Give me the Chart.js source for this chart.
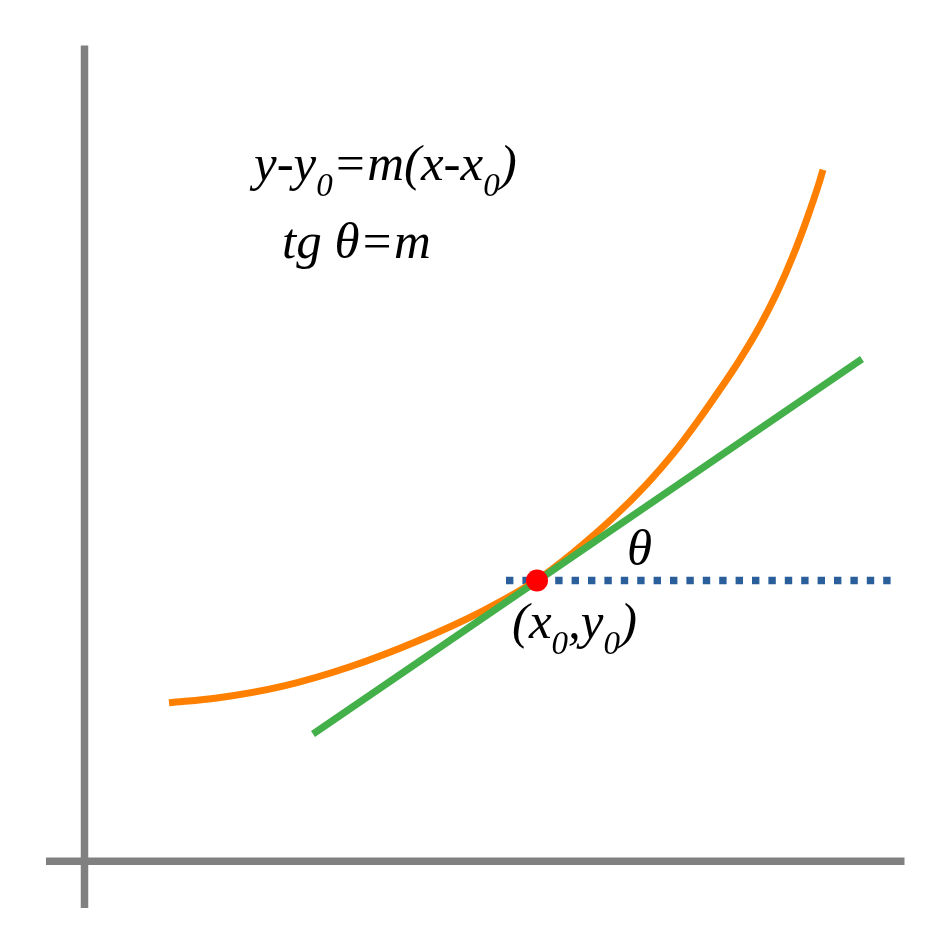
<!DOCTYPE html>
<html lang="pt-BR">
<head>
  <meta charset="UTF-8" />
  <title>Reta tangente</title>
  <style>
    body { margin: 0; background: #ffffff; }
    #grafico { display: block; }
  </style>
</head>
<body>
  <canvas id="grafico" width="945" height="945"></canvas>

  <script src="https://cdn.jsdelivr.net/npm/chart.js"></script>
  <script>
    // Curva (laranja), lida ponto a ponto da figura
    const curvaX = [85, 133, 199, 266, 333, 399, 453, 489, 529, 563, 589, 613, 633, 656, 676, 693, 709, 723, 735, 739];
    const curvaY = [158.2, 163, 174.9, 194.3, 219.8, 250.2, 281, 308.4, 343.2, 377.2, 407.1, 438.8, 467.2, 501.7, 535.3, 568.4, 605.2, 642.3, 677.7, 691.3];

    // Reta tangente (verde)
    const tangenteX = [229, 778];
    const tangenteY = [127, 502];

    // Linha horizontal pontilhada (azul)
    const horizX = [422, 808];
    const horizY = [280.5, 280.5];

    // Ponto de tangencia (x0, y0)
    const pontoX = [453];
    const pontoY = [280.5];

    // Eixos
    const eixoHX = [-38, 820.5];
    const eixoHY = [-0.3, -0.3];
    const eixoVX = [0.5, 0.5];
    const eixoVY = [-47, 815.5];

    // Textos: [x, y de base, partes]  (parte com sub = true fica subscrita)
    const textos = [
      [170, 681, [['y-y'], ['0', true], ['=m(x-x'], ['0', true], [')']]],
      [198, 603, [['tg θ=m']]],
      [543, 296, [['θ']]],
      [428, 223, [['(x'], ['0', true], [','], ['y'], ['0', true], [')']]]
    ];

    function pares(xs, ys) {
      return xs.map((x, i) => ({ x: x, y: ys[i] }));
    }

    const fonteNormal = 'italic 51px "Liberation Serif", "DejaVu Serif", serif';
    const fonteSub = 'italic 33px "Liberation Serif", "DejaVu Serif", serif';

    // Plugin para escrever as fórmulas
    const pluginTextos = {
      id: 'textos',
      afterDraw(chart) {
        const ctx = chart.ctx;
        const sx = chart.scales.x, sy = chart.scales.y;
        ctx.save();
        ctx.fillStyle = '#000000';
        ctx.textBaseline = 'alphabetic';
        ctx.textAlign = 'left';
        textos.forEach(t => {
          let px = sx.getPixelForValue(t[0]);
          const py = sy.getPixelForValue(t[1]);
          t[2].forEach(parte => {
            const sub = parte[1] === true;
            ctx.font = sub ? fonteSub : fonteNormal;
            ctx.fillText(parte[0], px, sub ? py + 16 : py);
            px += ctx.measureText(parte[0]).width;
          });
        });
        ctx.restore();
      }
    };

    const linha = {
      showLine: true,
      pointRadius: 0,
      pointHoverRadius: 0,
      fill: false,
      borderCapStyle: 'butt'
    };

    new Chart(document.getElementById('grafico').getContext('2d'), {
      type: 'scatter',
      data: {
        datasets: [
          {
            data: pares(pontoX, pontoY),
            showLine: false,
            pointRadius: 11,
            pointHoverRadius: 11,
            pointBorderWidth: 0,
            backgroundColor: '#ff0000',
            borderColor: '#ff0000'
          },
          Object.assign({}, linha, {
            data: pares(tangenteX, tangenteY),
            borderColor: '#43b049',
            borderWidth: 7
          }),
          Object.assign({}, linha, {
            data: pares(curvaX, curvaY),
            borderColor: '#ff8000',
            borderWidth: 7,
            cubicInterpolationMode: 'monotone'
          }),
          Object.assign({}, linha, {
            data: pares(horizX, horizY),
            borderColor: '#2a5f9b',
            borderWidth: 7.5,
            borderDash: [7.4, 9]
          }),
          Object.assign({}, linha, {
            data: pares(eixoHX, eixoHY),
            borderColor: '#808080',
            borderWidth: 7.5
          }),
          Object.assign({}, linha, {
            data: pares(eixoVX, eixoVY),
            borderColor: '#808080',
            borderWidth: 7.5
          })
        ]
      },
      options: {
        responsive: false,
        animation: false,
        devicePixelRatio: 1,
        layout: { padding: 0, autoPadding: false },
        events: [],
        plugins: {
          legend: { display: false },
          tooltip: { enabled: false }
        },
        scales: {
          x: { type: 'linear', min: -84, max: 861, display: false },
          y: { type: 'linear', min: -84, max: 861, display: false }
        }
      },
      plugins: [pluginTextos]
    });
  </script>
</body>
</html>
